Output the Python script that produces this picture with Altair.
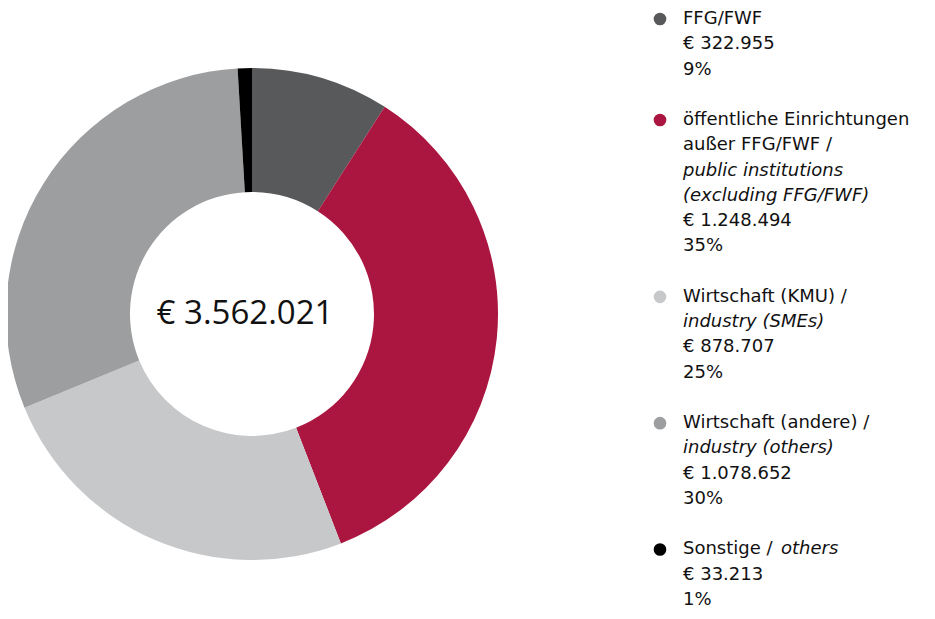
import altair as alt
import pandas as pd

categories = ["FFG/FWF", "öffentliche Einrichtungen außer FFG/FWF", "Wirtschaft (KMU)",
              "Wirtschaft (andere)", "Sonstige"]
amounts = [322955, 1248494, 878707, 1078652, 33213]
amount_labels = ["€ 322.955", "€ 1.248.494", "€ 878.707", "€ 1.078.652", "€ 33.213"]
percent_labels = ["9%", "35%", "25%", "30%", "1%"]
colors = ["#58595b", "#ab1640", "#c7c8ca", "#9d9ea0", "#000000"]
total_label = "€ 3.562.021"

# legend name lines (text, style)
name_lines = [
    [("FFG/FWF", "normal")],
    [("öffentliche Einrichtungen", "normal"), ("außer FFG/FWF /", "normal"),
     ("public institutions", "italic"), ("(excluding FFG/FWF)", "italic")],
    [("Wirtschaft (KMU) /", "normal"), ("industry (SMEs)", "italic")],
    [("Wirtschaft (andere) /", "normal"), ("industry (others)", "italic")],
    [("Sonstige / ", "normal")],
]
inline_italic = {4: "others"}

pie = pd.DataFrame({"cat": categories, "amount": amounts, "idx": list(range(len(categories)))})

rows, dots = [], []
line = 0
for i, cat in enumerate(categories):
    dots.append({"cat": cat, "line": line})
    for j, (t, s) in enumerate(name_lines[i]):
        rows.append({"text": t, "style": s, "line": line})
        if j == 0 and i in inline_italic:
            rows.append({"text": inline_italic[i], "style": "inline", "line": line})
        line += 1
    rows.append({"text": amount_labels[i], "style": "normal", "line": line}); line += 1
    rows.append({"text": percent_labels[i], "style": "normal", "line": line}); line += 1
    line += 1
n_lines = line - 2
legend_df = pd.DataFrame(rows)
dots_df = pd.DataFrame(dots)

color = alt.Color("cat:N", scale=alt.Scale(domain=categories, range=colors), legend=None)
yscale = alt.Scale(domain=[0, n_lines], range=[11, 592])

CX, CY = 244, 306
FONT = "DejaVu Sans"

arc = alt.Chart(pie).mark_arc(outerRadius=246, innerRadius=122).encode(
    theta=alt.Theta("amount:Q", stack=True),
    order=alt.Order("idx:Q"),
    color=color,
    x=alt.value(CX), y=alt.value(CY),
)

center = alt.Chart(pd.DataFrame({"t": [total_label]})).mark_text(
    font="Open Sans", fontSize=33, color="#111111", align="center", baseline="middle"
).encode(text="t:N", x=alt.value(CX - 7), y=alt.value(CY))

dot_layer = alt.Chart(dots_df).mark_circle(size=160, opacity=1).encode(
    x=alt.value(652),
    y=alt.Y("line:Q", scale=yscale, axis=None),
    color=color,
)

def text_layer(style, italic, dx=0):
    return alt.Chart(legend_df).transform_filter(alt.datum.style == style).mark_text(
        font=FONT, fontSize=18, fontStyle="italic" if italic else "normal",
        align="left", baseline="middle", color="#111111", dx=dx
    ).encode(
        x=alt.value(675),
        y=alt.Y("line:Q", scale=yscale, axis=None),
        text="text:N",
    )

chart = alt.layer(
    arc, center, dot_layer,
    text_layer("normal", False), text_layer("italic", True), text_layer("inline", True, 98),
).properties(
    width=919, height=603, padding=0,
    autosize=alt.AutoSizeParams(type="none"),
).configure_view(stroke=None)

chart.save("out.html", embed_options={"renderer": "svg", "actions": False})
